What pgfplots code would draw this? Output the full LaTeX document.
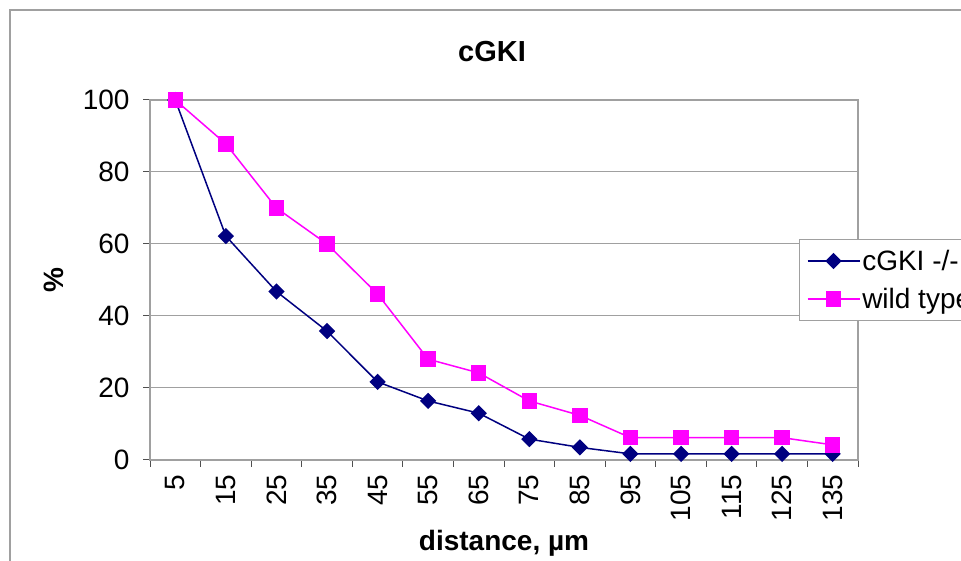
\documentclass[border=0pt]{standalone}
\usepackage{fontspec}
\setmainfont{Liberation Sans}
\usepackage{pgfplots}
\pgfplotsset{compat=1.18}
\definecolor{navyc}{HTML}{000080}
\definecolor{magc}{HTML}{FF00FF}
\definecolor{gridc}{HTML}{A0A0A0}
\definecolor{axc}{HTML}{505050}
\begin{document}
\begin{tikzpicture}[x=1bp,y=1bp]
\useasboundingbox (0,0) rectangle (961,561);
\clip (0,0) rectangle (961,561);
\fill[white] (0,0) rectangle (961,561);
\draw[gridc, line width=1.2bp] (10,-20) rectangle (1000,551);
\node[font=\fontsize{29bp}{34bp}\selectfont\bfseries] at (492,509) {cGKI};
\begin{axis}[
  at={(150bp,101bp)}, anchor=south west,
  scale only axis, width=708bp, height=360bp,
  xmin=-0.5, xmax=13.5, ymin=0, ymax=100,
  xtick={0,...,13},
  xticklabels={5,15,25,35,45,55,65,75,85,95,105,115,125,135},
  major x tick style={draw=none},
  minor xtick={-0.5,0.5,...,13.5},
  ytick={0,20,...,100},
  ymajorgrids, grid style={gridc, line width=1bp},
  tick align=outside, tick pos=left,
  major tick length=7bp, minor tick length=7bp,
  every tick/.style={axc, line width=1bp},
  axis line style={gridc, line width=1.2bp},
  tick label style={font=\fontsize{28bp}{33bp}\selectfont},
  /pgf/number format/assume math mode=true,
  xticklabel style={rotate=90, anchor=east, xshift=-4bp},
  yticklabel style={xshift=-10bp},
  xlabel={\bfseries distance, µm},
  ylabel={\bfseries \%},
  xlabel style={yshift=-2bp},
  ylabel style={yshift=12bp},
  label style={font=\fontsize{28bp}{33bp}\selectfont},
  legend style={at={(axis description cs:0.917,0.5)}, anchor=west, draw=gridc, line width=1bp,
    font=\fontsize{28bp}{33bp}\selectfont, inner xsep=7bp, inner ysep=9bp, row sep=12bp},
  legend cell align=left,
  legend image code/.code={\draw[mark repeat=2,mark phase=2,#1] plot coordinates {(0bp,0bp)(26bp,0bp)(52bp,0bp)};},
]
\addplot[navyc, line width=1.5bp, mark=square*, mark size=5bp, mark options={rotate=45, fill=navyc}] coordinates {
(0,100) (1,62.2) (2,46.8) (3,35.8) (4,21.7) (5,16.4) (6,13) (7,5.8) (8,3.5) (9,1.7) (10,1.7) (11,1.7) (12,1.7) (13,1.7)};
\addlegendentry{cGKI -/-}
\addplot[magc, line width=1.5bp, mark=square*, mark size=7bp, mark options={fill=magc}] coordinates {
(0,100) (1,87.8) (2,70) (3,60) (4,46.1) (5,28) (6,24.2) (7,16.4) (8,12.4) (9,6.2) (10,6.2) (11,6.2) (12,6.2) (13,4.2)};
\addlegendentry{wild type}
\end{axis}
\end{tikzpicture}
\end{document}
